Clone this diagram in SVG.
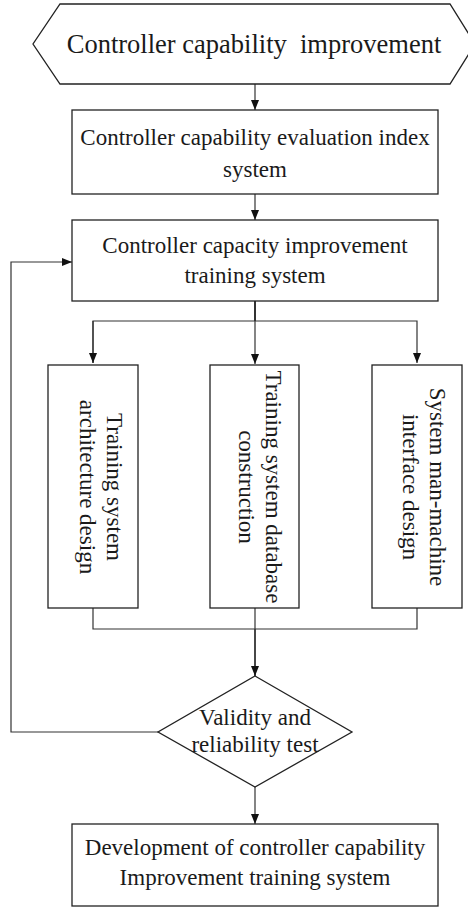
<svg xmlns="http://www.w3.org/2000/svg" width="468" height="907" viewBox="0 0 468 907">
<style>
.box{fill:#fff;stroke:#222;stroke-width:1.3}
.ln{fill:none;stroke:#333;stroke-width:1.2}
.t{font-family:"Liberation Serif","Times New Roman",serif;font-size:23px;fill:#1a1a1a;text-anchor:middle}
.big{font-size:26.5px}
</style>
<defs>
<marker id="ah" viewBox="0 0 10 10" refX="10" refY="5" markerWidth="10" markerHeight="10" markerUnits="userSpaceOnUse" orient="auto">
<path d="M0,1 L10,5 L0,9 Z" fill="#111"/>
</marker>
</defs>
<rect width="468" height="907" fill="#fff"/>
<g id="connectors">
<line class="ln" x1="255" y1="84" x2="255" y2="110" marker-end="url(#ah)"/>
<line class="ln" x1="255" y1="194" x2="255" y2="220" marker-end="url(#ah)"/>
<line class="ln" x1="255" y1="301" x2="255" y2="321" style="stroke-width:2"/>
<polyline class="ln" points="93,363 93,321 417,321 417,363" marker-end="url(#ah)"/>
<line class="ln" x1="93" y1="321" x2="93" y2="363" marker-end="url(#ah)"/>
<line class="ln" x1="255" y1="321" x2="255" y2="364" marker-end="url(#ah)"/>
<polyline class="ln" points="93,608 93,629 417,629 417,608"/>
<line class="ln" x1="255" y1="608" x2="255" y2="629"/>
<line class="ln" x1="255" y1="629" x2="255" y2="676" style="stroke-width:1.8" marker-end="url(#ah)"/>
<polyline class="ln" points="158,732 11,732 11,262 72,262" marker-end="url(#ah)"/>
<line class="ln" x1="255" y1="787" x2="255" y2="824" marker-end="url(#ah)"/>
</g>
<g id="n-start">
<polygon class="box" points="60,4 450,4 475,44 450,84 60,84 33,44"/>
<text class="t big" x="254" y="53" xml:space="preserve">Controller capability  improvement</text>
</g>
<g id="n-index">
<rect class="box" x="72" y="110" width="366" height="84"/>
<text class="t" x="255" y="145">Controller capability evaluation index</text>
<text class="t" x="255" y="177">system</text>
</g>
<g id="n-training">
<rect class="box" x="72" y="220" width="366" height="81"/>
<text class="t" x="255" y="253">Controller capacity improvement</text>
<text class="t" x="255" y="283">training system</text>
</g>
<g id="n-arch">
<rect class="box" x="48" y="365" width="90" height="243"/>
<g transform="translate(93,487) rotate(90)">
<text class="t" x="0" y="-14">Training system</text>
<text class="t" x="0" y="13">architecture design</text>
</g>
</g>
<g id="n-db">
<rect class="box" x="210" y="365" width="89" height="243"/>
<g transform="translate(254.5,487) rotate(90)">
<text class="t" x="0" y="-11">Training system database</text>
<text class="t" x="0" y="16">construction</text>
</g>
</g>
<g id="n-hmi">
<rect class="box" x="372" y="365" width="90" height="243"/>
<g transform="translate(417,487) rotate(90)">
<text class="t" x="0" y="-13">System man-machine</text>
<text class="t" x="0" y="14">interface design</text>
</g>
</g>
<g id="n-test">
<polygon class="box" points="255,676 352,732 255,787 158,732"/>
<text class="t" x="255" y="725">Validity and</text>
<text class="t" x="255" y="752">reliability test</text>
</g>
<g id="n-dev">
<rect class="box" x="72" y="824" width="366" height="82"/>
<text class="t" x="255" y="855">Development of controller capability</text>
<text class="t" x="255" y="885">Improvement training system</text>
</g>
</svg>
